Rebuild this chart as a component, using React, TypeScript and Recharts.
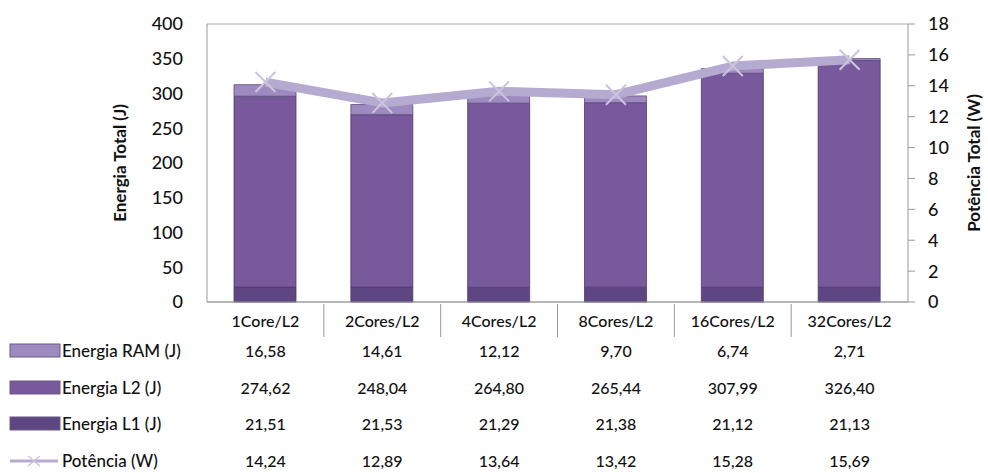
import React from 'react';
import { ComposedChart, Bar, Line, XAxis, YAxis, CartesianGrid } from 'recharts';

const categories = ['1Core/L2', '2Cores/L2', '4Cores/L2', '8Cores/L2', '16Cores/L2', '32Cores/L2'];
const energiaRam = [16.58, 14.61, 12.12, 9.7, 6.74, 2.71];
const energiaL2 = [274.62, 248.04, 264.8, 265.44, 307.99, 326.4];
const energiaL1 = [21.51, 21.53, 21.29, 21.38, 21.12, 21.13];
const potencia = [14.24, 12.89, 13.64, 13.42, 15.28, 15.69];
const leftTicks = [0, 50, 100, 150, 200, 250, 300, 350, 400];
const rightTicks = [0, 2, 4, 6, 8, 10, 12, 14, 16, 18];

const data = categories.map((name, i) => ({
  name,
  ram: energiaRam[i],
  l2: energiaL2[i],
  l1: energiaL1[i],
  pot: potencia[i],
}));

const W = 988;
const H = 473;
const PLOT_LEFT = 207;
const PLOT_RIGHT = 908;
const PLOT_TOP = 24;
const PLOT_BOTTOM = 302;
const HALF_BAND = (PLOT_RIGHT - PLOT_LEFT) / categories.length / 2;

const FONT = 'Lato, "Open Sans", sans-serif';
const TXT = '#111';
const C_RAM = '#9d8abf';
const C_L2 = '#77599c';
const C_L1 = '#5d4681';
const C_LINE = '#b5abd1';
const C_MARK = '#cbc5dd';

const fmt = (v: number) => v.toFixed(2).replace('.', ',');

const XTick = (props: any) => {
  const { x, y, payload, index } = props;
  return (
    <g>
      {index > 0 && (
        <line x1={x - HALF_BAND} x2={x - HALF_BAND} y1={y} y2={y + 33} stroke="#999" strokeWidth={1} />
      )}
      <text x={x} y={y + 23} textAnchor="middle" fontSize={16} fontWeight={500} fill={TXT} fontFamily={FONT}>
        {payload.value}
      </text>
    </g>
  );
};

const XMark = (props: any) => {
  const { cx, cy } = props;
  if (cx == null || cy == null) return null;
  const s = 10;
  return (
    <g>
      <line x1={cx - s} y1={cy - s} x2={cx + s} y2={cy + s} stroke={C_MARK} strokeWidth={2} />
      <line x1={cx - s} y1={cy + s} x2={cx + s} y2={cy - s} stroke={C_MARK} strokeWidth={2} />
    </g>
  );
};

const rows = [
  { label: 'Energia RAM (J)', values: energiaRam, color: C_RAM, kind: 'bar' },
  { label: 'Energia L2 (J)', values: energiaL2, color: C_L2, kind: 'bar' },
  { label: 'Energia L1 (J)', values: energiaL1, color: C_L1, kind: 'bar' },
  { label: 'Potência (W)', values: potencia, color: C_LINE, kind: 'line' },
];
const ROW_Y = [351, 388, 424, 461];

export default function App() {
  return (
    <div style={{ position: 'absolute', left: 0, top: 0, width: W, height: H, background: '#fff', fontFamily: FONT }}>
      <ComposedChart
        width={W}
        height={342}
        data={data}
        margin={{ top: PLOT_TOP, right: 0, left: 0, bottom: 0 }}
        barSize={62}
      >
        <CartesianGrid vertical={false} stroke="#a6a6a6" strokeWidth={1} />
        <XAxis
          dataKey="name"
          height={40}
          tickLine={false}
          tickSize={0}
          axisLine={{ stroke: '#999' }}
          tick={<XTick />}
          interval={0}
        />
        <YAxis
          yAxisId="left"
          width={PLOT_LEFT}
          domain={[0, 400]}
          ticks={leftTicks}
          tickSize={0}
          tickLine={false}
          tickMargin={24}
          axisLine={{ stroke: '#999' }}
          tick={{ fontSize: 18, fontWeight: 500, fill: TXT, fontFamily: FONT }}
        />
        <YAxis
          yAxisId="right"
          orientation="right"
          width={W - PLOT_RIGHT}
          domain={[0, 18]}
          ticks={rightTicks}
          tickSize={7}
          tickMargin={13}
          axisLine={{ stroke: '#999' }}
          tickLine={{ stroke: '#999' }}
          tick={{ fontSize: 18, fontWeight: 500, fill: TXT, fontFamily: FONT, textAnchor: 'start' }}
        />
        <Bar yAxisId="left" dataKey="l1" stackId="e" fill={C_L1} stroke="#4e3b6e" strokeWidth={0.8} isAnimationActive={false} />
        <Bar yAxisId="left" dataKey="l2" stackId="e" fill={C_L2} stroke="#4e3b6e" strokeWidth={0.8} isAnimationActive={false} />
        <Bar yAxisId="left" dataKey="ram" stackId="e" fill={C_RAM} stroke="#5e4c80" strokeWidth={0.8} isAnimationActive={false} />
        <Line
          yAxisId="right"
          dataKey="pot"
          stroke={C_LINE}
          strokeWidth={9}
          strokeLinejoin="round"
          dot={<XMark />}
          activeDot={false}
          isAnimationActive={false}
        />
      </ComposedChart>

      <svg width={W} height={H} style={{ position: 'absolute', left: 0, top: 0, pointerEvents: 'none' }}>
        <text
          transform={`translate(126, ${(PLOT_TOP + PLOT_BOTTOM) / 2}) rotate(-90)`}
          textAnchor="middle"
          fontSize={17}
          fontWeight="bold"
          fill={TXT}
          fontFamily={FONT}
        >
          Energia Total (J)
        </text>
        <text
          transform={`translate(980, ${(PLOT_TOP + PLOT_BOTTOM) / 2}) rotate(-90)`}
          textAnchor="middle"
          fontSize={17}
          fontWeight="bold"
          fill={TXT}
          fontFamily={FONT}
        >
          Potência Total (W)
        </text>
        {rows.map((r, ri) => (
          <g key={r.label}>
            {r.kind === 'bar' ? (
              <rect x={10} y={ROW_Y[ri] - 7} width={50} height={13} fill={r.color} stroke="#6a5a88" strokeWidth={1} />
            ) : (
              <g>
                <line x1={10} x2={58} y1={ROW_Y[ri]} y2={ROW_Y[ri]} stroke={r.color} strokeWidth={3} />
                <line x1={28} y1={ROW_Y[ri] - 5} x2={40} y2={ROW_Y[ri] + 5} stroke={C_MARK} strokeWidth={1.5} />
                <line x1={28} y1={ROW_Y[ri] + 5} x2={40} y2={ROW_Y[ri] - 5} stroke={C_MARK} strokeWidth={1.5} />
              </g>
            )}
            <text x={62} y={ROW_Y[ri] + 6} fontSize={17} fontWeight={500} fill={TXT} fontFamily={FONT}>
              {r.label}
            </text>
            {r.values.map((v, ci) => (
              <text
                key={ci}
                x={PLOT_LEFT + HALF_BAND * (2 * ci + 1)}
                y={ROW_Y[ri] + 6}
                textAnchor="middle"
                fontSize={16}
                fontWeight={500}
                fill={TXT}
                fontFamily={FONT}
              >
                {fmt(v)}
              </text>
            ))}
          </g>
        ))}
      </svg>
    </div>
  );
}
